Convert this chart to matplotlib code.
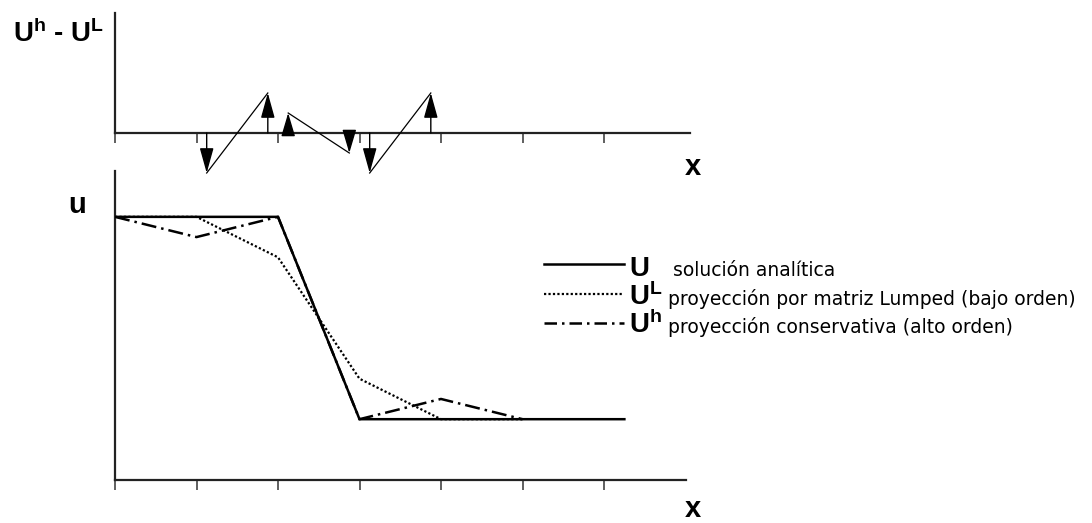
import matplotlib
matplotlib.use("Agg")
import matplotlib.pyplot as plt
from matplotlib.lines import Line2D

plt.rcParams['mathtext.fontset'] = 'custom'
plt.rcParams['mathtext.rm'] = 'Liberation Sans:bold'
plt.rcParams['mathtext.bf'] = 'Liberation Sans:bold'
plt.rcParams['mathtext.it'] = 'Liberation Sans:bold'

# ---- data ----
x_nodes = [0, 1, 2, 3, 4, 5, 6]
u_x = [0, 1, 2, 3, 4, 5, 6.25]
u_exact = [1, 1, 1, 0, 0, 0, 0]
uL_x = [0, 1, 2, 3, 4, 5]
u_lumped = [1, 1, 0.8, 0.2, 0, 0]
uH_x = [0, 1, 2, 3, 4, 5]
u_high = [1, 0.9, 1, 0, 0.1, 0]
diff_x = [1.125, 1.875, 2.125, 2.875, 3.125, 3.875]
diff_val = [-1, 1, 0.5, -0.5, -1, 1]
legend_labels = ["solución analítica",
                 "proyección por matriz Lumped (bajo orden)",
                 "proyección conservativa (alto orden)"]
legend_syms = [r"$\mathbf{U}$", r"$\mathbf{U^{L}}$", r"$\mathbf{U^{h}}$"]

W, H = 1092, 523
fig = plt.figure(figsize=(W / 100, H / 100), dpi=100)

def fx(px):
    return px / W

def fy(py):
    return 1 - py / H

# ---- bottom axes ----
axb = fig.add_axes([fx(115), fy(480), (685.5 - 115) / W, (480 - 171) / H])
axb.set_xlim(0, 7)
axb.set_ylim(-0.3005, 1.2266)
axb.plot(u_x, u_exact, color='black', lw=1.8, solid_joinstyle='miter', zorder=3)
axb.plot(uL_x, u_lumped, color='black', lw=1.6, linestyle=(0, (1, 1)), zorder=2)
axb.plot(uH_x, u_high, color='black', lw=1.8, linestyle=(0, (6, 2, 1, 2)), zorder=2)
for s in ['top', 'right']:
    axb.spines[s].set_visible(False)
for s in ['left', 'bottom']:
    axb.spines[s].set_linewidth(1.6)
    axb.spines[s].set_color('#222222')
axb.set_xticks(x_nodes)
axb.set_xticklabels([])
axb.set_yticks([])
axb.tick_params(axis='x', direction='out', length=7.5, width=1.2, color='#444444')

# ---- top axes ----
axt = fig.add_axes([fx(115), fy(180), (690 - 115) / W, (180 - 13) / H])
axt.set_xlim(0, (690 - 115) / 81.5)
axt.set_ylim(-1.175, 3.0)
axt.patch.set_visible(False)
for s in ['top', 'right']:
    axt.spines[s].set_visible(False)
axt.spines['bottom'].set_position(('data', 0))
axt.spines['left'].set_bounds(0, 3)
for s in ['left', 'bottom']:
    axt.spines[s].set_linewidth(1.6)
    axt.spines[s].set_color('#222222')
axt.set_xticks(x_nodes)
axt.set_xticklabels([])
axt.set_yticks([])
axt.tick_params(axis='x', direction='out', length=7.5, width=1.2, color='#444444')

for i in range(0, len(diff_x), 2):
    axt.plot(diff_x[i:i + 2], diff_val[i:i + 2], color='black', lw=0.9, zorder=3)
for xv, yv in zip(diff_x, diff_val):
    hl = 15.5 if abs(yv) > 0.75 else 14.5
    axt.annotate('', xy=(xv, yv), xytext=(xv, 0),
                 arrowprops=dict(arrowstyle=f'-|>,head_length={hl},head_width=4.3',
                                 mutation_scale=1, shrinkA=0, shrinkB=0,
                                 color='black', lw=1.0), zorder=4)

# ---- labels ----
fig.text(fx(13), fy(42), r"$\mathbf{U^{h}}$ - $\mathbf{U^{L}}$", fontsize=20,
         family='Liberation Sans', fontweight='bold', ha='left', va='baseline')
fig.text(fx(77), fy(205), "u", fontsize=21, family='Liberation Sans',
         fontweight='bold', ha='center', va='center')
fig.text(fx(693), fy(167), "x", fontsize=21, family='Liberation Sans',
         fontweight='bold', ha='center', va='center')
fig.text(fx(693), fy(509), "x", fontsize=21, family='Liberation Sans',
         fontweight='bold', ha='center', va='center')

# ---- legend (manual) ----
row_line_y = [264, 294, 323]
row_base_y = [276, 305, 333]
text_x = [673, 668, 668]
styles = ['-', (0, (1, 1)), (0, (5, 2, 1, 2))]
lws = [1.8, 1.6, 1.8]
for i in range(3):
    fig.add_artist(Line2D([fx(544), fx(624)], [fy(row_line_y[i])] * 2,
                          color='black', lw=lws[i], linestyle=styles[i],
                          transform=fig.transFigure))
    fig.text(fx(629), fy(row_base_y[i]), legend_syms[i], fontsize=20,
             family='Liberation Sans', ha='left', va='baseline')
    fig.text(fx(text_x[i]), fy(row_base_y[i]), legend_labels[i], fontsize=13.5,
             family='DejaVu Sans', ha='left', va='baseline')

fig.savefig('out.png', dpi=100)
